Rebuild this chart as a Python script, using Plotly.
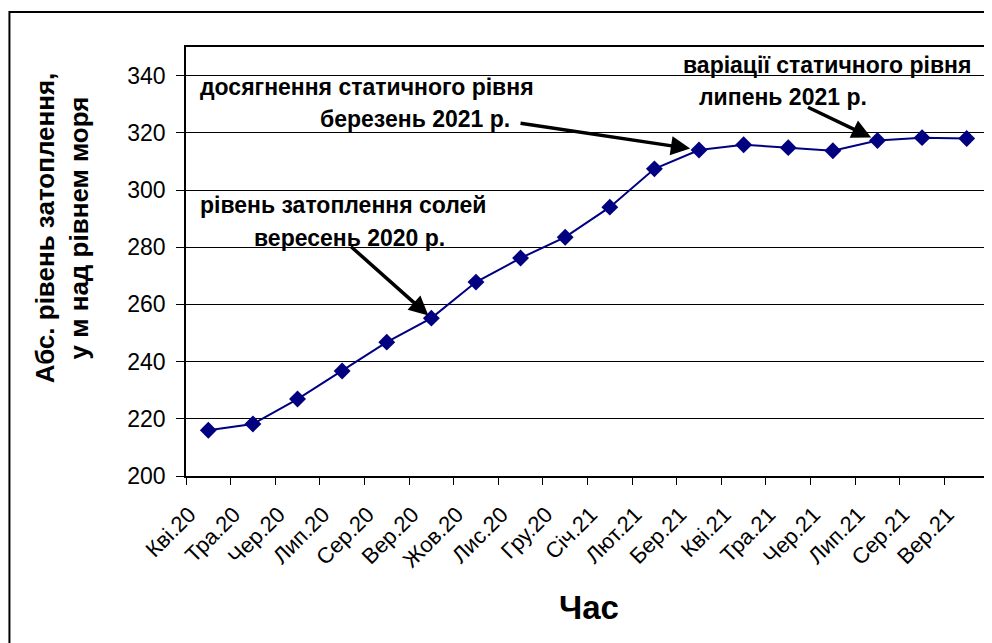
import plotly.graph_objects as go

months = ["Кві.20", "Тра.20", "Чер.20", "Лип.20", "Сер.20", "Вер.20", "Жов.20", "Лис.20", "Гру.20",
          "Січ.21", "Лют.21", "Бер.21", "Кві.21", "Тра.21", "Чер.21", "Лип.21", "Сер.21", "Вер.21"]
levels = [216, 218.2, 226.9, 236.7, 246.8, 255.2, 267.8, 276.2, 283.5,
          294, 307.4, 314, 315.8, 314.8, 313.7, 317.3, 318.3, 318]
y_ticks = [200, 220, 240, 260, 280, 300, 320, 340]

OFF = 8  # browser body margin
W, H = 992 - OFF, 643 - OFF
# plot area in reference screen pixels
PL, PR, PT, PB = 186, 991, 47, 476
L, R, T, B = PL - OFF, W - (PR - OFF), PT - OFF, H - (PB - OFF)
PW, PH = PR - PL, PB - PT

def px(x):
    return (x - PL) / PW

def py(y):
    return (PB - y) / PH

fig = go.Figure()
fig.add_trace(go.Scatter(
    x=months, y=levels, mode="lines+markers",
    line=dict(color="#000080", width=2),
    marker=dict(symbol="diamond", size=13, color="#000080"),
    showlegend=False, cliponaxis=False,
))

font = "Liberation Sans, Arial, sans-serif"
ann = []
labels = [
    ("досягнення статичного рівня", 198, 87),
    ("березень 2021 р.", 318, 119),
    ("рівень затоплення солей", 198, 205),
    ("вересень 2020 р.", 252, 238),
    ("варіації статичного рівня", 682, 65),
    ("липень 2021 р.", 698, 97),
]
for txt, x, y in labels:
    ann.append(dict(text="<b>" + txt + "</b>", x=px(x), y=py(y), xref="paper", yref="paper",
                    xanchor="left", yanchor="middle", showarrow=False,
                    font=dict(family=font, size=23, color="black")))
arrows = [("Бер.21", 314, -180, -27, 9), ("Вер.20", 255.2, -82, -73, 4), ("Лип.21", 317.3, -71, -34, 7)]
for xc, yv, axp, ayp, so in arrows:
    ann.append(dict(x=xc, y=yv, xref="x", yref="y", ax=axp, ay=ayp, text="",
                    showarrow=True, arrowhead=2, arrowsize=1.1, arrowwidth=3.5,
                    arrowcolor="black", standoff=so))
ann.append(dict(text="<b>Абс. рівень затоплення,<br>у м над рівнем моря</b>", textangle=-90,
                x=px(62), y=py(228), xref="paper", yref="paper", showarrow=False,
                xanchor="center", yanchor="middle", align="center",
                font=dict(family=font, size=26, color="black")))
ann.append(dict(text="<b>Час</b>", x=px(590), y=py(607), xref="paper", yref="paper",
                showarrow=False, xanchor="center", yanchor="middle",
                font=dict(family=font, size=33, color="black")))

fig.update_layout(
    width=W, height=H,
    margin=dict(l=L, r=R, t=T, b=B),
    paper_bgcolor="white", plot_bgcolor="white",
    annotations=ann,
    shapes=[dict(type="rect", xref="paper", yref="paper",
                 x0=px(9), x1=px(1000), y0=py(700), y1=py(12),
                 line=dict(color="black", width=2))],
    font=dict(family=font, size=22, color="black"),
)
fig.update_xaxes(
    type="category", tickangle=-45, tickson="boundaries",
    ticks="outside", ticklen=7, tickcolor="black", ticklabelstandoff=15, ticklabelshift=-19,
    showline=True, linecolor="black", linewidth=2, mirror=True,
    showgrid=False, tickfont=dict(family=font, size=22, color="black"),
    range=[-0.5, len(months) - 0.5],
)
fig.update_yaxes(
    range=[200, 350], tickvals=y_ticks, ticks="outside", ticklen=8, tickcolor="black",
    ticklabelstandoff=6,
    showline=True, linecolor="black", linewidth=1.5, mirror=True,
    showgrid=True, gridcolor="black", gridwidth=1,
    tickfont=dict(family=font, size=23, color="black"),
)

fig.write_html("out.html")
